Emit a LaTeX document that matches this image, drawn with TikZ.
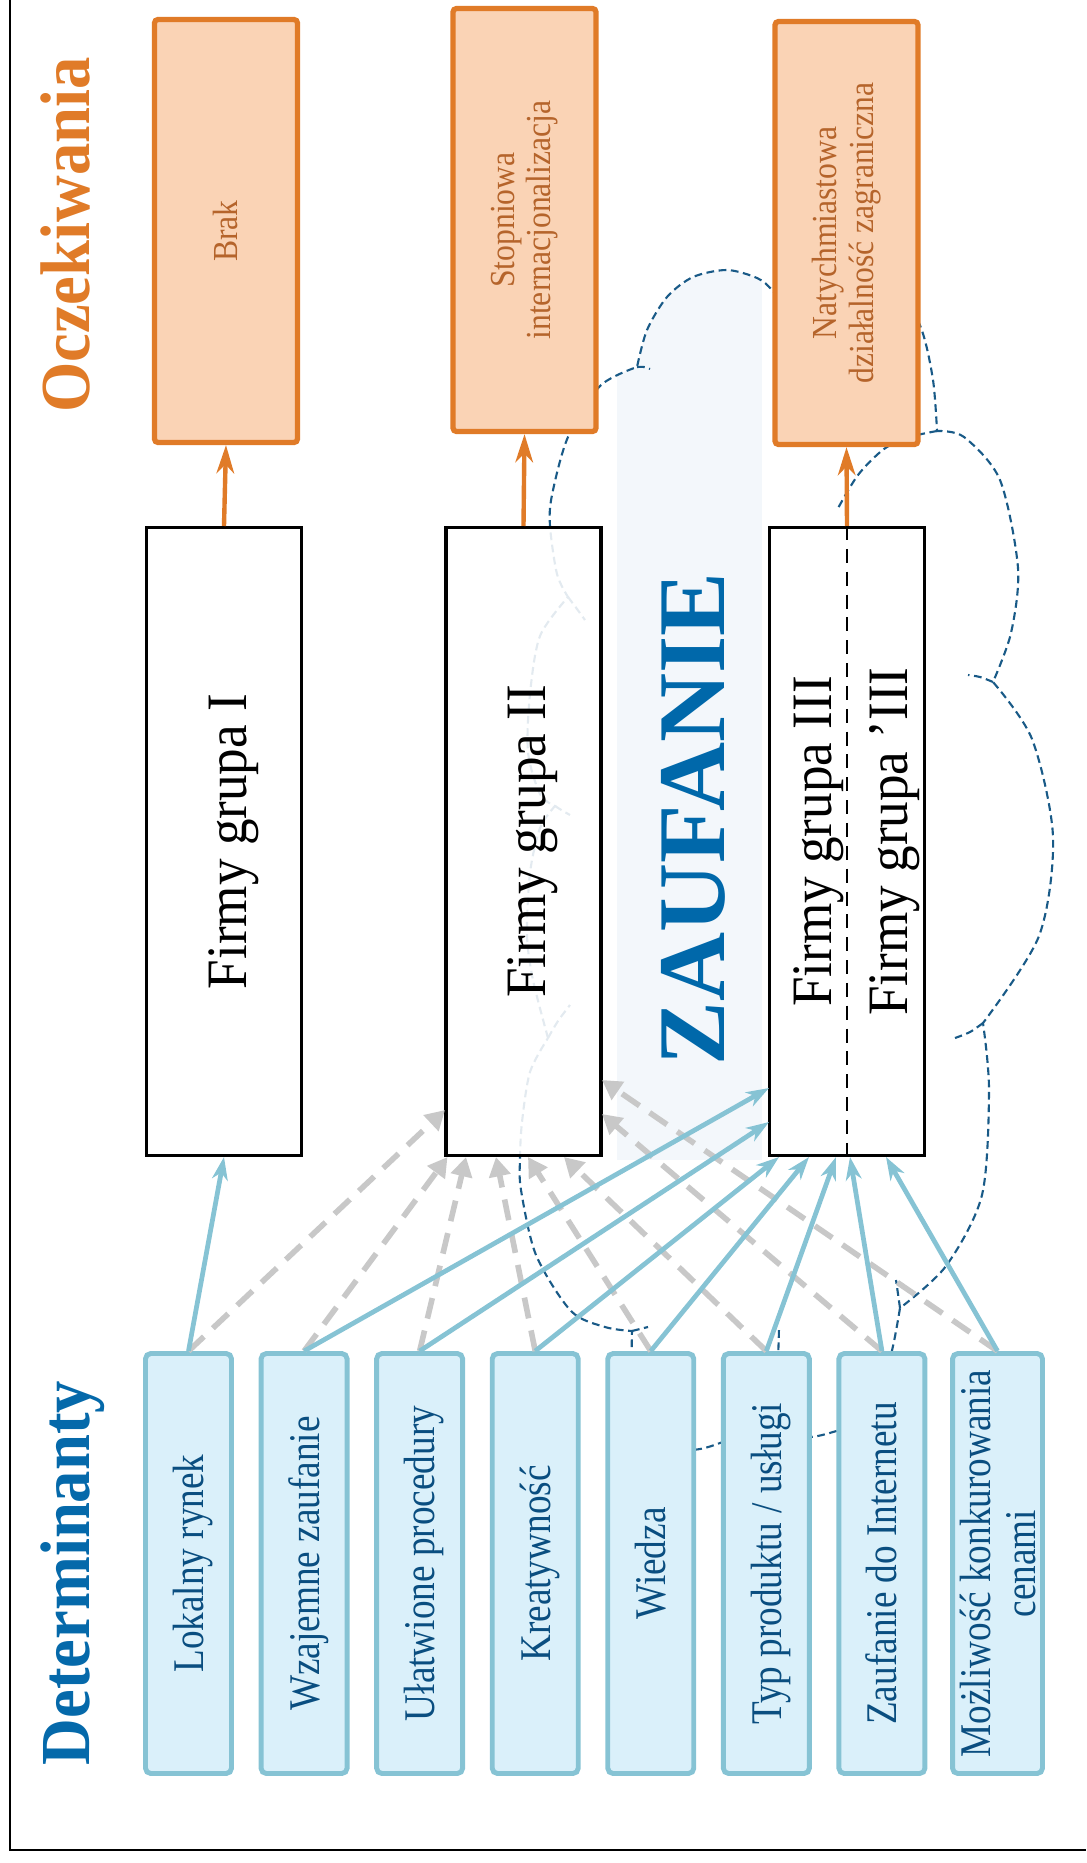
\documentclass[tikz,border=0pt]{standalone}
\usepackage{fontspec}
\setmainfont{Liberation Serif}
\newfontfamily\detfont[FakeStretch=0.85]{Liberation Serif}
\newfontfamily\expfont[FakeStretch=0.9]{Liberation Serif}
\newfontfamily\firmfont[FakeStretch=0.93]{Liberation Serif}
\newfontfamily\titlefont[FakeStretch=0.92]{Liberation Serif}
\usetikzlibrary{arrows.meta,calc}

\definecolor{exporange}{HTML}{E07B28}
\definecolor{expfill}{HTML}{FAD3B5}
\definecolor{exptext}{HTML}{B5642B}
\definecolor{detline}{HTML}{86C3D4}
\definecolor{detfill}{HTML}{DAF0FA}
\definecolor{dettext}{HTML}{0A4E80}
\definecolor{detblue}{HTML}{0569AA}
\definecolor{trustblue}{HTML}{0068AA}
\definecolor{trustfill}{HTML}{F3F7FB}
\definecolor{cloudblue}{HTML}{195A87}
\definecolor{linkgray}{HTML}{C8C8C8}

% outline of the cloud
\def\cloudoutline{plot[smooth] coordinates {(548,1038) (533,980) (527,935) (530,873) (540,828) (555,806)}
-- plot[smooth] coordinates {(555,806) (540,794) (528,752) (530,694) (540,636) (568,597)}
-- plot[smooth] coordinates {(568,597) (557,574) (550,526) (552,495) (568,437) (600,386) (637,367)}
-- plot[smooth] coordinates {(637,367) (647,330) (667,297) (693,277) (727,270) (757,278) (772,290) (790,315)}
-- plot[smooth] coordinates {(790,315) (840,272) (895,282) (921,328) (933,380) (937,431)}
-- plot[smooth] coordinates {(937,431) (964,437) (1000,480) (1018,568) (1011,633) (993,682)}
-- plot[smooth] coordinates {(993,682) (1032,739) (1053,837) (1039,936) (983,1023)}
-- plot[smooth] coordinates {(983,1023) (989,1090) (982,1195) (946,1266) (900,1308)}
-- plot[smooth] coordinates {(900,1308) (893,1346) (880,1395) (858,1422) (833,1432) (808,1437) (782,1430) (766,1410)}
-- plot[smooth] coordinates {(766,1410) (748,1432) (720,1443) (700,1449) (675,1450) (652,1437) (637,1405) (632,1365) (632,1331)}
-- plot[smooth] coordinates {(632,1331) (605,1327) (571,1311) (536,1255) (521,1190) (520,1159) (522,1122) (530,1072) (548,1038)}
-- cycle}

\begin{document}
\begin{tikzpicture}[x=0.1mm,y=-0.1mm,
  expbox/.style={draw=exporange,fill=expfill,line width=1.5pt,rounded corners=1pt,rotate=90,
    minimum width=42.3mm,minimum height=14.3mm,inner sep=2pt,align=center,text=exptext,
    font=\expfont\fontsize{10pt}{10.4pt}\selectfont},
  grpbox/.style={draw=black,fill=white,line width=0.95pt,rotate=90,
    minimum width=62.77mm,minimum height=15.47mm},
  grptext/.style={rotate=90,anchor=base,font=\firmfont\fontsize{16.25pt}{18pt}\selectfont},
  detbox/.style={draw=detline,fill=detfill,line width=1.4pt,rounded corners=1.5pt,rotate=90,
    minimum width=42mm,minimum height=8.6mm,inner sep=2pt,align=center,text=dettext,
    text height=11.2pt,text depth=2.7pt,font=\detfont\fontsize{12.46pt}{12.8pt}\selectfont},
  titletext/.style={rotate=90,anchor=base,font=\titlefont\bfseries\fontsize{20pt}{22pt}\selectfont},
  cloudline/.style={draw=cloudblue,line width=0.6pt,dash pattern=on 2.2pt off 1.3pt},
  exparrow/.style={draw=exporange,line width=1.25pt,-{Stealth[length=8pt,width=5pt,inset=2.5pt]}},
  detarrow/.style={draw=detline,line width=1.35pt,-{Stealth[length=6.5pt,width=4.5pt,inset=2pt]}},
  grayarrow/.style={draw=linkgray,line width=1.6pt,dash pattern=on 6pt off 3.5pt,
    -{Triangle[length=5.5pt,width=6pt]}}]
\useasboundingbox (0,0) rectangle (1086,1863);
\draw[line width=0.6pt] (10,0) -- (10,1850) -- (1086,1850);

% cloud with the light strip
\begin{scope}
\clip \cloudoutline;
\fill[trustfill] (617,250) rectangle (762,1160);
\end{scope}
\draw[cloudline] \cloudoutline;
\draw[cloudline] plot[smooth] coordinates {(548,1038) (558,1021) (570,1005)};
\draw[cloudline] plot[smooth] coordinates {(632,1331) (640,1329) (648,1327)};
\draw[cloudline] plot[smooth] coordinates {(555,806) (563,811) (570,815)};
\draw[cloudline] plot[smooth] coordinates {(568,597) (577,609) (585,620)};
\draw[cloudline] plot[smooth] coordinates {(637,367) (644,367) (650,369)};
\draw[cloudline] plot[smooth] coordinates {(937,431) (910,437) (884,449) (858,475) (837,510)};
\draw[cloudline] plot[smooth] coordinates {(993,682) (980,677) (968,675)};
\draw[cloudline] plot[smooth] coordinates {(983,1023) (970,1032) (955,1038)};
\draw[cloudline] plot[smooth] coordinates {(900,1308) (898,1294) (896,1280)};
\draw[cloudline] plot[smooth] coordinates {(766,1410) (774,1385) (778,1355) (779,1327)};

% expectations
\node[expbox,text height=9pt,text depth=2.2pt] (brak) at (226,231) {Brak};
\node[expbox] (stop) at (524.5,220) {Stopniowa\\internacjonalizacja};
\node[expbox] (natych) at (846.5,233) {Natychmiastowa\\działalność zagraniczna};

% groups of firms
\node[grpbox] (g1) at (224,841.5) {};
\node[grpbox,fill opacity=0.88] (g2) at (523.5,841.5) {};
\node[grpbox] (g3) at (847,841.5) {};
\draw[line width=0.6pt,dash pattern=on 4pt off 2.5pt] (g3.east) -- (g3.west);
\node[grptext] at ($(g1.center)+(22,0)$) {Firmy grupa I};
\node[grptext] at ($(g2.center)+(21.5,0)$) {Firmy grupa II};
\node[grptext] at ($(g3.center)+(-16,0)$) {Firmy grupa III};
\node[grptext] at ($(g3.center)+(60,0)$) {Firmy grupa ’III};

% determinants
\foreach \nm/\txt [count=\i from 0] in {lok/Lokalny rynek,wza/Wzajemne zaufanie,
    ula/Ułatwione procedury,kre/Kreatywność,wie/Wiedza,typ/{Typ produktu / usługi},
    zau/Zaufanie do Internetu}
  \node[detbox] (\nm) at ({188.5+115.57*\i},1563.5) {\txt};
\node[detbox,text height=,text depth=] (moz) at (997.5,1563.5) {Możliwość konkurowania\\cenami};

% titles
\node[titletext,text=exporange] (oczek) at (90,235) {Oczekiwania};
\node[titletext,text=detblue] (determ) at (90,1573) {Determinanty};
\node[rotate=90,anchor=base,text=trustblue,font=\bfseries\fontsize{27.2pt}{30pt}\selectfont] (zauf) at (724,819) {ZAUFANIE};

% connectors
\draw[exparrow] (g1.east) -- (brak.west);
\draw[exparrow] (g2.east) -- (stop.west);
\draw[exparrow] (g3.east) -- (natych.west);
\foreach \src/\dx/\dy in {lok/-78.5/-47,wza/-76/0,ula/-57.5/0,kre/-27.5/0,wie/4.5/0,
    typ/40.5/0,zau/78.5/-43,moz/78.5/-77}
  \draw[grayarrow] (\src.east) -- ($(g2.west)+(\dx,\dy)$);
\draw[detarrow] (lok.east) -- (g1.west);
\foreach \src/\dx/\dy in {wza/-78/-69,ula/-78/-35,kre/-68/0,wie/-38/0,typ/-11/0,zau/3/0,moz/39/0}
  \draw[detarrow] (\src.east) -- ($(g3.west)+(\dx,\dy)$);
\end{tikzpicture}
\end{document}
